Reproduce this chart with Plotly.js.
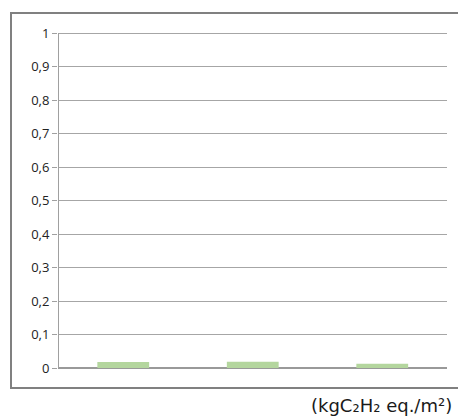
<!DOCTYPE html>
<html>
<head>
<meta charset="utf-8">
<script src="https://cdn.plot.ly/plotly-3.0.1.min.js"></script>
<style>
html,body{margin:0;padding:0;background:#fff;overflow:hidden;}
#wrap{position:relative;width:458px;height:418px;overflow:hidden;}
#chart{position:absolute;left:0;top:0;width:458px;height:418px;}
.ln{position:absolute;background:#808080;z-index:10;pointer-events:none;}
</style>
</head>
<body>
<div id="wrap">
<div id="chart"></div>
<div class="ln" style="left:10px;top:12px;width:460px;height:2px;"></div>
<div class="ln" style="left:10px;top:12px;width:2px;height:377px;"></div>
<div class="ln" style="left:10px;top:387px;width:460px;height:2px;"></div>
</div>
<script>
const categories = ['1', '2', '3'];
const values = [0.018, 0.019, 0.013];
const yTickVals = [0, 0.1, 0.2, 0.3, 0.4, 0.5, 0.6, 0.7, 0.8, 0.9, 1];
const yTickText = ['0', '0,1', '0,2', '0,3', '0,4', '0,5', '0,6', '0,7', '0,8', '0,9', '1'];
const unitLabel = '(kgC₂H₂ eq./m²)';

const trace = {
  type: 'bar',
  x: categories,
  y: values,
  marker: {color: '#b4d69e', line: {width: 0}},
  hoverinfo: 'none'
};

const layout = {
  width: 458, height: 418,
  margin: {l: 58, r: 11, t: 30, b: 50, pad: 0},
  paper_bgcolor: 'rgba(0,0,0,0)',
  plot_bgcolor: 'rgba(0,0,0,0)',
  showlegend: false,
  bargap: 0.6,
  font: {family: 'Open Sans, sans-serif', size: 13, color: '#222222'},
  xaxis: {
    type: 'category',
    showticklabels: false,
    ticks: '',
    showgrid: false,
    zeroline: false,
    showline: false,
    fixedrange: true
  },
  yaxis: {
    range: [0, 1.009],
    tickvals: yTickVals,
    ticktext: yTickText,
    ticks: 'outside',
    ticklen: 5,
    tickcolor: '#a0a0a0',
    showgrid: true,
    gridcolor: '#a6a6a6',
    gridwidth: 1,
    zeroline: true,
    zerolinecolor: '#999999',
    zerolinewidth: 1.5,
    showline: false,
    tickfont: {family: 'Open Sans, sans-serif', size: 13, color: '#222222'},
    fixedrange: true
  },
  shapes: [{
    type: 'line', xref: 'x', yref: 'y',
    x0: -0.5, x1: -0.5, y0: 0, y1: 1,
    line: {color: '#a0a0a0', width: 1}
  }],
  annotations: [{
    xref: 'paper', yref: 'paper',
    x: 0.645, y: -0.112, xanchor: 'left', yanchor: 'middle',
    text: unitLabel, showarrow: false,
    font: {family: 'DejaVu Sans, sans-serif', size: 18, color: '#1a1a1a'}
  }]
};

Plotly.newPlot('chart', [trace], layout, {displayModeBar: false, staticPlot: true});
</script>
</body>
</html>
